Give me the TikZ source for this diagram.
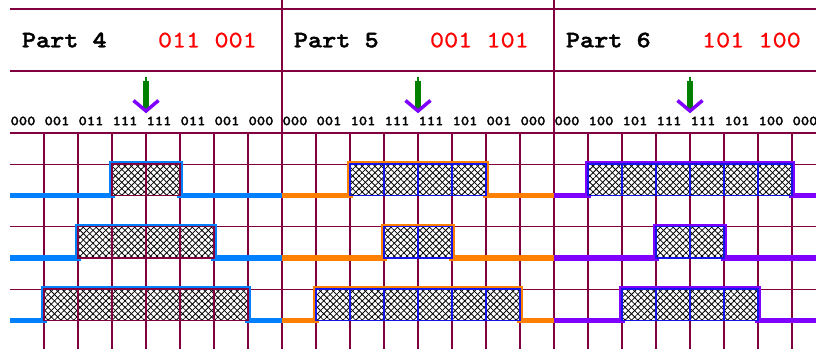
\documentclass[tikz,border=0pt]{standalone}
\usepackage{fontspec}
\usetikzlibrary{patterns.meta}
\newfontfamily\boldmono{lmmonolt10-bold}[Extension=.otf, FakeStretch=1.14, FakeBold=1.6]
\newfontfamily\regmono{lmmono10-regular}[Extension=.otf, FakeStretch=1.14, FakeBold=0.6]
\definecolor{gridc}{RGB}{128,0,64}
\definecolor{wblue}{RGB}{0,128,255}
\definecolor{worange}{RGB}{255,128,0}
\definecolor{wviolet}{RGB}{128,0,255}
\definecolor{cellblue}{RGB}{20,20,230}
\definecolor{agreen}{RGB}{0,128,0}
\tikzset{
  gridline/.style={draw=gridc, line width=0.8pt},
  wave/.style={line width=3.8pt, line join=miter},
  hatchcell/.style={fill=white,
    postaction={pattern={Lines[angle=45,distance=3.4pt,line width=0.6pt]}},
    postaction={pattern={Lines[angle=-45,distance=3.4pt,line width=0.6pt]}}},
  celloutline/.style={line width=1pt},
  titletext/.style={font=\boldmono\fontsize{17.7}{20}\selectfont, anchor=base west, inner sep=0pt},
  codetext/.style={font=\regmono\fontsize{17.7}{20}\selectfont, text=red, anchor=base west, inner sep=0pt},
  bittext/.style={font=\boldmono\fontsize{10.4}{12}\selectfont, anchor=base west, inner sep=0pt},
  shaft/.style={draw=agreen, line width=4.6pt},
  chevron/.style={draw=wviolet, line width=2.6pt, line join=miter}
}
\begin{document}
\begin{tikzpicture}[x=0.75pt,y=-0.75pt]
\useasboundingbox (0,0) rectangle (816,349);
\clip (0,0) rectangle (816,349);
% header lines
\draw[gridline] (10,9) -- (816,9);
\draw[gridline] (10,71) -- (816,71);
% grid
\foreach \k in {0,...,6}{
  \draw[gridline] (10,133+31.25*\k) -- (816,133+31.25*\k);
}
\foreach \k in {1,...,23}{
  \draw[gridline] (10+34*\k,133) -- (10+34*\k,349);
}
\draw[gridline] (282,0) -- (282,349);
\draw[gridline] (554,0) -- (554,349);
% waveforms, hatched cells and cell outlines
\foreach \p/\col/\ocol/\rows in {0/wblue/gridc/{3/5,2/6,1/7}, 1/worange/cellblue/{2/6,3/5,1/7}, 2/wviolet/cellblue/{1/7,3/5,2/6}}{
  \pgfmathsetmacro\xo{10+272*\p}
  \foreach \s/\e [count=\r from 0] in \rows {
    \pgfmathsetmacro\hy{164+62.5*\r}
    \pgfmathsetmacro\ly{195.5+62.5*\r}
    \draw[wave, draw=\col] (\xo,\ly) -- (\xo+34*\s,\ly) -- (\xo+34*\s,\hy) -- (\xo+34*\e,\hy) -- (\xo+34*\e,\ly) -- (\xo+272,\ly);
    \path[hatchcell] (\xo+34*\s,\hy) rectangle (\xo+34*\e,\ly);
    \pgfmathtruncatemacro\ee{\e-1}
    \foreach \c in {\s,...,\ee}{
      \draw[celloutline, draw=\ocol] (\xo+34*\c,\hy) rectangle (\xo+34*\c+34,\ly);
    }
  }
}
% texts and arrows
\foreach \p/\num/\code/\bits in {
  0/4/{011 001}/{000,001,011,111,111,011,001,000},
  1/5/{001 101}/{000,001,101,111,111,101,001,000},
  2/6/{101 100}/{000,100,101,111,111,101,100,000}}{
  \pgfmathsetmacro\xo{10+272*\p}
  \node[titletext] (title\num) at (\xo+11.7,47.3) {Part \num};
  \node[codetext] (code\num) at (\xo+147.7,47.3) {\code};
  \foreach \b [count=\i from 0] in \bits {
    \node[bittext] (bit\num-\i) at (\xo+34*\i+0.3,125.2) {\b};
  }
  \coordinate (atop\num) at (\xo+136,77.5);
  \coordinate (amid\num) at (\xo+136,81);
  \coordinate (abot\num) at (\xo+136,109);
  \draw[draw=agreen, line width=0.8pt] (atop\num) -- (amid\num);
  \draw[shaft] (amid\num) -- (abot\num);
  \draw[chevron] (\xo+123.5,100.5) -- (\xo+136,111) -- (\xo+148.5,100.5);
}
\end{tikzpicture}
\end{document}
